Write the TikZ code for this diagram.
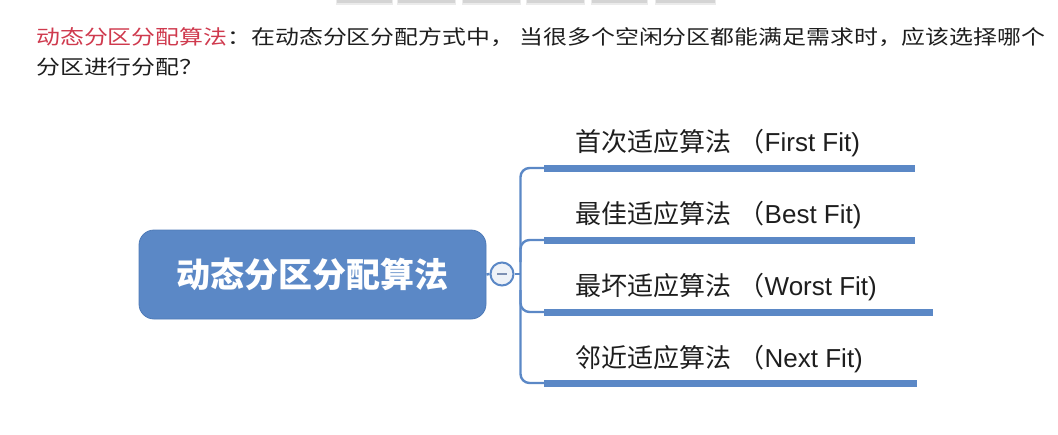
\documentclass[tikz,border=0pt]{standalone}
\usepackage{fontspec}
\newfontfamily\cjk{Noto Sans CJK SC}
\newfontfamily\lat{Liberation Sans}
\newfontfamily\cjkwide[FakeStretch=1.195]{Noto Sans CJK SC}
\definecolor{mblue}{HTML}{5B88C6}
\definecolor{mblueD}{HTML}{4F7BB7}
\definecolor{mred}{HTML}{CF3A4E}
\definecolor{txt}{HTML}{1E1E1E}
\definecolor{circfill}{HTML}{EEF2F8}
\definecolor{minuscol}{HTML}{7D90B3}
\newcommand{\fpar}{\hspace{7pt}（}
\tikzset{
  mainbox/.style={draw=mblueD, line width=0.8pt, fill=mblue, rounded corners=15pt,
    minimum width=347pt, minimum height=89pt, inner sep=0pt, text=white,
    font=\cjk\bfseries\fontsize{34}{40}\selectfont},
  toggle/.style={circle, draw=mblue, line width=2pt, fill=circfill, minimum size=23pt, inner sep=0pt},
  barbox/.style={fill=mblue, draw=none, minimum height=7pt, inner sep=0pt, anchor=west},
  branchlabel/.style={anchor=base west, inner sep=0pt, text=txt, font=\cjk\fontsize{26}{30}\selectfont},
  toptext/.style={anchor=base west, inner sep=0pt, text=txt, font=\cjkwide\fontsize{20}{30}\selectfont},
  conn/.style={draw=mblue, line width=2.4pt, rounded corners=9pt},
  blob/.style={fill=black!17, draw=none},
}
\begin{document}
\begin{tikzpicture}[x=1pt,y=-1pt]
\useasboundingbox (0,0) rectangle (1058,434);
% faint UI blobs at top edge
\foreach \a/\b in {337/392,398/455,463/520,527/584,592/647,656/715}{
  \fill[black!8] (\a-1,0) rectangle (\b+1,5);
  \fill[blob] (\a,0) rectangle (\b,3);
}
% heading
\node[toptext] (h1) at (36,44) {\textcolor{mred}{动态分区分配算法}：在动态分区分配方式中， 当很多个空闲分区都能满足需求时，应该选择哪个};
\node[toptext] (h2) at (36,74) {分区进行分配？};
% root
\node[mainbox] (root) at (312.5,274.5) {动态分区分配算法};
\node[toggle] (tog) at (502,274) {};
\draw[minuscol, line width=2.4pt] ([xshift=-5pt]tog.center) -- ([xshift=5pt]tog.center);
% bars
\node[barbox, minimum width=371pt] (bar1) at (544,168) {};
\node[barbox, minimum width=371pt] (bar2) at (544,240) {};
\node[barbox, minimum width=389pt] (bar3) at (544,312) {};
\node[barbox, minimum width=373pt] (bar4) at (544,383) {};
% labels
\node[branchlabel] (l1) at (575.5,151) {首次适应算法\fpar{\lat First Fit)}};
\node[branchlabel] (l2) at (575.5,223) {最佳适应算法\fpar{\lat Best Fit)}};
\node[branchlabel] (l3) at (575.5,295) {最坏适应算法\fpar{\lat Worst Fit)}};
\node[branchlabel] (l4) at (575.5,367) {邻近适应算法\fpar{\lat Next Fit)}};
% connectors
\coordinate (t1) at (520.5,168);
\coordinate (t2) at (520.5,240);
\coordinate (t3) at (520.5,312);
\coordinate (t4) at (520.5,383);
\coordinate (tm) at (520.5,274);
\coordinate (t2b) at (520.5,262);
\coordinate (t3b) at (520.5,290);
\draw[conn] (bar1.west) -- (t1) -- (t4) -- (bar4.west);
\draw[conn] (bar2.west) -- (t2) -- (t2b);
\draw[conn] (bar3.west) -- (t3) -- (t3b);
\draw[conn, rounded corners=0pt] (tog.east) -- (tm);
\draw[conn, rounded corners=0pt] (root.east) -- (tog.west);
\end{tikzpicture}
\end{document}
